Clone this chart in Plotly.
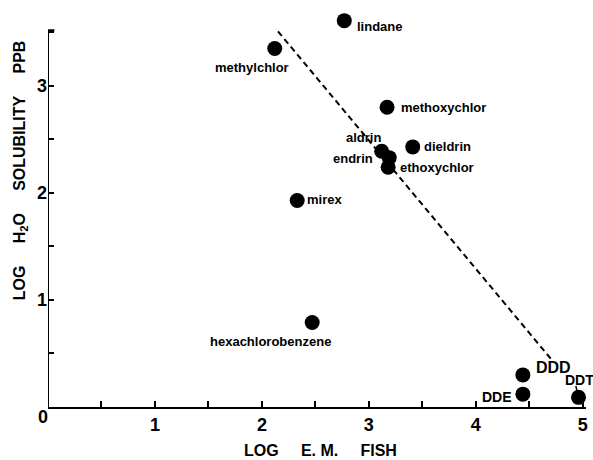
import plotly.graph_objects as go

# Data
names = ["lindane", "methylchlor", "methoxychlor", "aldrin", "endrin", "dieldrin",
         "ethoxychlor", "mirex", "hexachlorobenzene", "DDD", "DDE", "DDT"]
log_em_fish = [2.77, 2.12, 3.17, 3.12, 3.19, 3.41, 3.18, 2.33, 2.47, 4.44, 4.44, 4.96]
log_h2o_sol = [3.61, 3.35, 2.80, 2.39, 2.33, 2.43, 2.24, 1.93, 0.79, 0.30, 0.12, 0.09]

fit_x = [2.15, 4.71]
fit_y = [3.51, 0.44]

x_tickvals = [0.5, 1, 1.5, 2, 2.5, 3, 3.5, 4, 4.5, 5]
x_ticktext = ["", "1", "", "2", "", "3", "", "4", "", "5"]
y_tickvals = [0.5, 1, 1.5, 2, 2.5, 3, 3.5]
y_ticktext = ["", "1", "", "2", "", "3", ""]
y_axis_top = 3.52

# label placement (style): xanchor, xshift, yshift in px, font size
label_style = {
    "lindane": ("left", 11, -6, 13),
    "methylchlor": ("right", 16, -19, 13),
    "methoxychlor": ("left", 12, 0, 13),
    "aldrin": ("right", 1, 14, 13),
    "endrin": ("right", -14, -1, 13),
    "dieldrin": ("left", 9, 0, 13),
    "ethoxychlor": ("left", 10, 0, 13),
    "mirex": ("left", 8, 1, 13),
    "hexachlorobenzene": ("right", 21, -19, 13),
    "DDD": ("left", 11, 7, 16),
    "DDT": ("center", 1, 17, 14),
    "DDE": ("right", -9, -3, 14),
}

FONT = "Liberation Sans"
NB = "\u00a0"

fig = go.Figure()
fig.add_trace(go.Scatter(
    x=fit_x, y=fit_y, mode="lines",
    line=dict(color="black", width=2, dash="6px,4px"),
    cliponaxis=False, hoverinfo="skip", showlegend=False))
fig.add_trace(go.Scatter(
    x=log_em_fish, y=log_h2o_sol, mode="markers",
    marker=dict(color="black", size=15),
    cliponaxis=False, showlegend=False, text=names))

for n, xv, yv in zip(names, log_em_fish, log_h2o_sol):
    xa, xs, ys, fs = label_style[n]
    fig.add_annotation(x=xv, y=yv, text=n, showarrow=False,
                       xanchor=xa, yanchor="middle", xshift=xs, yshift=ys,
                       font=dict(family=FONT, size=fs, color="black", weight="bold"))

# small leader tick between DDT label and its point
i_ddt = names.index("DDT")
fig.add_annotation(x=log_em_fish[i_ddt], y=log_h2o_sol[i_ddt], text="", showarrow=True,
                   arrowhead=0, arrowwidth=1.5, arrowcolor="black",
                   ax=-3, ay=-13, standoff=7)

# y axis line (stops at the axis top, below the plot-area top)
fig.add_shape(type="line", xref="x", yref="y", x0=0, x1=0, y0=0, y1=y_axis_top,
              line=dict(color="black", width=2))
fig.add_shape(type="line", xref="x", yref="y", x0=0, x1=0.06, y0=y_axis_top, y1=y_axis_top,
              line=dict(color="black", width=2))

# origin label
fig.add_annotation(x=0, y=0, text="0", showarrow=False, xshift=-5, yshift=-10,
                   xanchor="center", yanchor="middle",
                   font=dict(family=FONT, size=18, color="black", weight="bold"))
# axis titles
fig.add_annotation(xref="paper", yref="paper", x=-0.052, y=0.598,
                   text=f"LOG{NB*5}H<sub>2</sub>O{NB*5}SOLUBILITY{NB*5}PPB",
                   textangle=-90, showarrow=False, xanchor="center", yanchor="middle",
                   font=dict(family=FONT, size=16, color="black", weight="bold"))
fig.add_annotation(xref="paper", yref="paper", x=0.507, y=-0.109,
                   text=f"LOG{NB*5}E.{NB}M.{NB*5}FISH",
                   showarrow=False, xanchor="center", yanchor="middle",
                   font=dict(family=FONT, size=16, color="black", weight="bold"))

fig.update_layout(
    width=593, height=460,
    margin=dict(l=48, r=5, t=10.5, b=53.2),
    paper_bgcolor="white", plot_bgcolor="white",
    xaxis=dict(range=[0, 5.03], tickvals=x_tickvals, ticktext=x_ticktext,
               ticks="inside", ticklen=6, tickwidth=2, tickcolor="black",
               showline=True, linewidth=2, linecolor="black",
               showgrid=False, zeroline=False,
               tickfont=dict(family=FONT, size=18, color="black", weight="bold")),
    yaxis=dict(range=[0, 3.7], tickvals=y_tickvals, ticktext=y_ticktext,
               ticks="inside", ticklen=6, tickwidth=2, tickcolor="black",
               showline=False, showgrid=False, zeroline=False,
               tickfont=dict(family=FONT, size=18, color="black", weight="bold")),
)

fig.write_html("out.html", config={"displayModeBar": False},
               post_script="document.body.style.margin='0';")
